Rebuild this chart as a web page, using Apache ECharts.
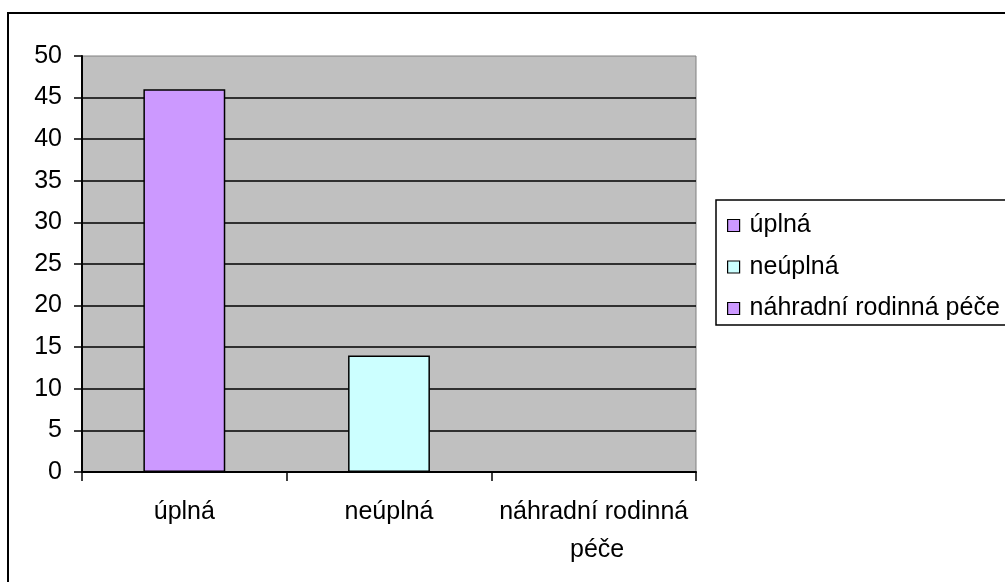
<!DOCTYPE html>
<html>
<head>
<meta charset="utf-8">
<script src="https://cdn.jsdelivr.net/npm/echarts@6/dist/echarts.min.js"></script>
<style>
  html, body { margin: 0; padding: 0; background: #fff; }
  #chart { width: 1005px; height: 582px; }
</style>
</head>
<body>
<div id="chart"></div>
<script>
// data
let categories = ['úplná', 'neúplná', 'náhradní rodinná péče'];
let values = [46, 14, 0];
let barColors = ['#CC99FF', '#CCFFFF', '#CC99FF'];
let yMin = 0, yMax = 50, yStep = 5;

let font = 'Arial, "Liberation Sans", sans-serif';
let fontSize = 25;
let chart = echarts.init(document.getElementById('chart'));

// one series per category so the legend lists each of them
let series = categories.map(function (name, i) {
    return {
        name: name,
        type: 'bar',
        stack: 'one',
        barWidth: '40%',
        itemStyle: {
            color: barColors[i],
            borderColor: '#000',
            borderWidth: 1.5
        },
        data: categories.map(function (c, j) { return j === i ? values[i] : '-'; })
    };
});

let options = {
    backgroundColor: '#fff',
    animation: false,
    textStyle: { fontFamily: font, color: '#000' },
    graphic: [
        {   // outer chart border (runs off the right and bottom)
            type: 'rect',
            shape: { x: 8, y: 13, width: 1200, height: 1000 },
            style: { fill: 'none', stroke: '#000', lineWidth: 2 }
        },
        {   // legend box
            type: 'rect',
            shape: { x: 716, y: 200, width: 400, height: 125 },
            style: { fill: '#fff', stroke: '#000', lineWidth: 1.5 },
            z: 0
        }
    ],
    grid: {
        left: 82,
        top: 56,
        right: 309,
        bottom: 110,
        show: true,
        backgroundColor: '#C0C0C0',
        borderColor: '#808080',
        borderWidth: 1
    },
    legend: {
        orient: 'vertical',
        left: 727,
        top: 213,
        padding: 0,
        icon: 'rect',
        itemWidth: 12,
        itemHeight: 12,
        itemGap: 16.5,
        itemStyle: { borderColor: '#000', borderWidth: 1.2 },
        textStyle: { fontFamily: font, fontSize: fontSize, color: '#000', lineHeight: 24, padding: [0, 0, 0, 5] },
        z: 5
    },
    xAxis: {
        type: 'category',
        data: categories,
        axisLine: { lineStyle: { color: '#000', width: 2 } },
        axisTick: { show: true, length: 9, interval: 0, lineStyle: { color: '#000', width: 1.5 } },
        axisLabel: {
            interval: 0,
            margin: 21,
            fontSize: fontSize,
            fontFamily: font,
            color: '#000',
            lineHeight: 38,
            width: 230,
            overflow: 'break'
        },
        splitLine: { show: false }
    },
    yAxis: {
        type: 'value',
        min: yMin,
        max: yMax,
        interval: yStep,
        axisLine: { show: true, lineStyle: { color: '#000', width: 2 } },
        axisTick: { show: true, length: 8, lineStyle: { color: '#000', width: 1.5 } },
        axisLabel: { margin: 20, fontSize: fontSize, fontFamily: font, color: '#000' },
        splitLine: { show: true, showMaxLine: false, lineStyle: { color: '#000', width: 1.5 } }
    },
    series: series
};
chart.setOption(options);
</script>
</body>
</html>
